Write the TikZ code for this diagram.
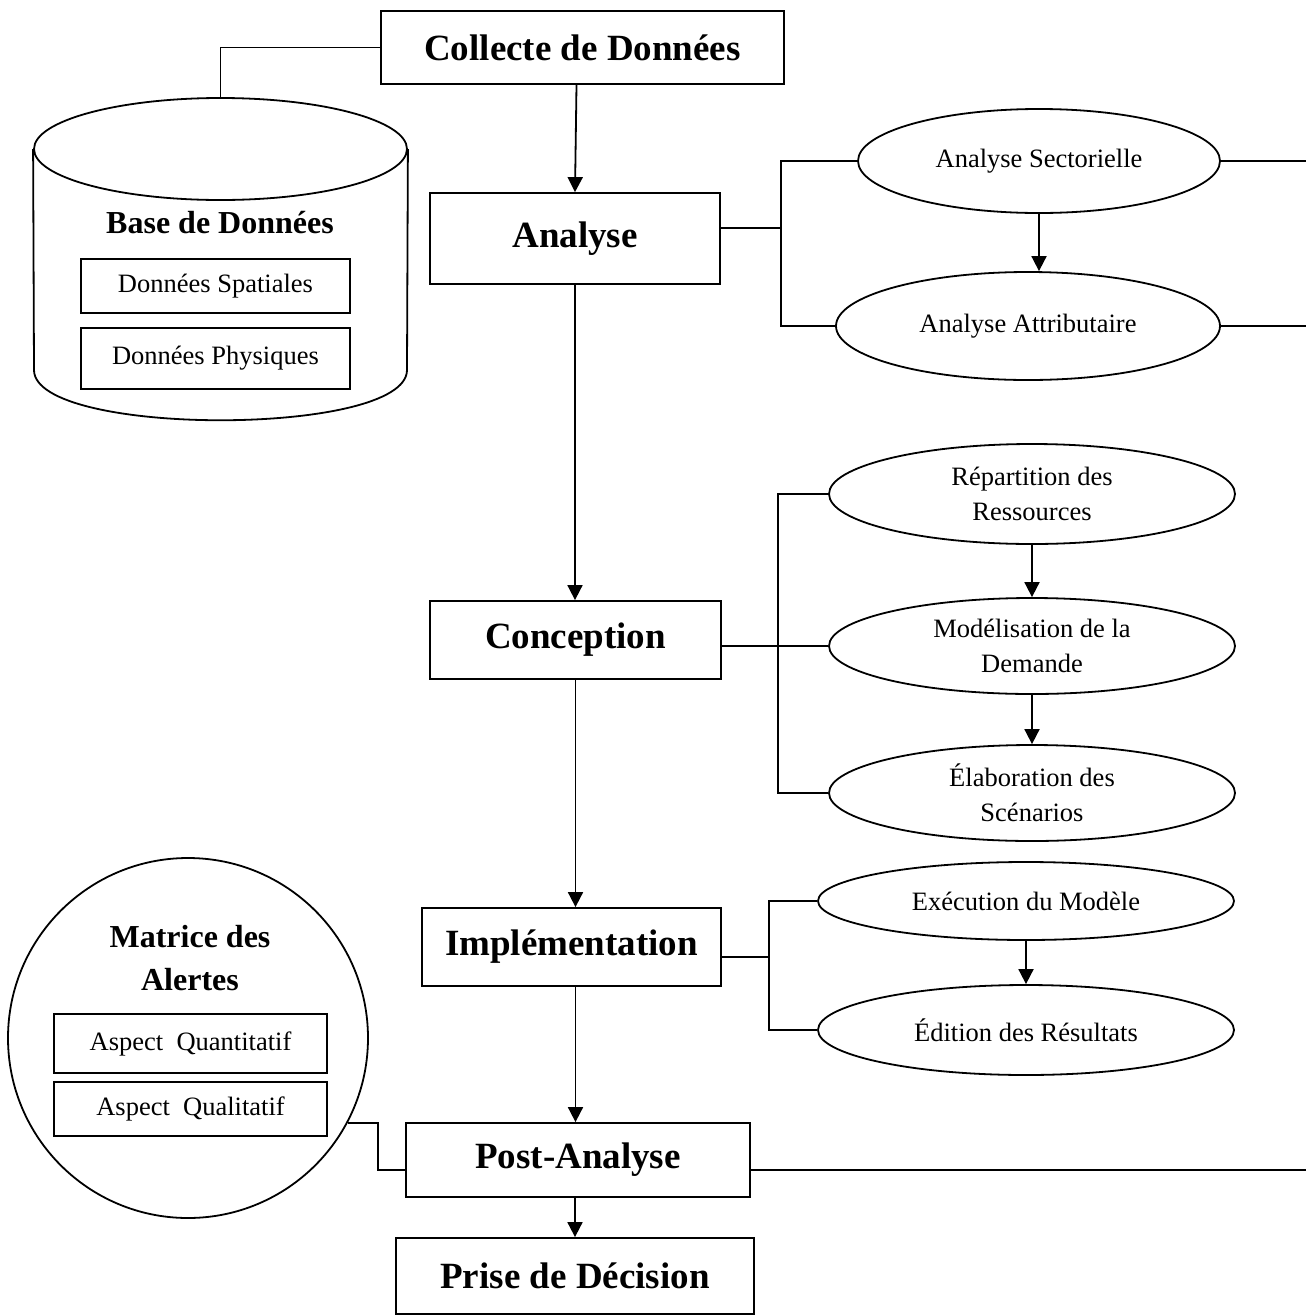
\documentclass[tikz,border=0pt]{standalone}
\usepackage{fontspec}
\setmainfont{Liberation Serif}
\usetikzlibrary{shapes.geometric}
\usetikzlibrary{positioning, arrows.meta}

\begin{document}
\begin{tikzpicture}[x=1pt, y=-1pt, line width=1.8pt, >={Triangle[width=15pt,length=15pt]}]
        % Define styles for shapes
        \tikzstyle{etape} = [draw, rectangle, inner sep=0pt, font=\fontsize{37}{44}\selectfont\bfseries]
        \tikzstyle{sousetape} = [draw, ellipse, inner sep=0pt, align=center, font=\fontsize{26.5}{35}\selectfont]
        \tikzstyle{cadre} = [draw, rectangle, inner sep=0pt, minimum width=269pt, font=\fontsize{26.5}{32}\selectfont]
        \tikzstyle{titre} = [align=center, font=\fontsize{32}{43}\selectfont\bfseries]

        \useasboundingbox (0,0) rectangle (1306,1315);

        % Main steps
        \node[etape, minimum width=403pt, minimum height=73pt] (collecte) at (582.5,47.5) {Collecte de Données};
        \node[etape, minimum width=290pt, minimum height=91pt] (analyse) at (575,238.5) {Analyse};
        \node[etape, minimum width=291pt, minimum height=78pt] (conception) at (575.5,640) {Conception};
        \node[etape, minimum width=299pt, minimum height=78pt] (implementation) at (571.5,947) {Implémentation};
        \node[etape, minimum width=344pt, minimum height=74pt] (postanalyse) at (578,1160) {Post-Analyse};
        \node[etape, minimum width=358pt, minimum height=76pt] (decision) at (575,1276) {Prise de Décision};

        % Database cylinder
        \node[draw, ellipse, minimum width=373pt, minimum height=102pt, inner sep=0pt] (basetop) at (220.5,149) {};
        \draw (basetop.west) -- (34,370) .. controls (34,437) and (407,437) .. (407,370) -- (basetop.east);
        \node[titre] (basetitre) at (220,223) {Base de Données};
        \node[cadre, minimum height=54pt] (spatiales) at (215.5,286) {Données Spatiales};
        \node[cadre, minimum height=61pt] (physiques) at (215.5,358.5) {Données Physiques};

        % Sub-steps
        \node[sousetape, minimum width=362pt, minimum height=104pt] (sectorielle) at (1039,161) {Analyse Sectorielle};
        \node[sousetape, minimum width=384pt, minimum height=108pt] (attributaire) at (1028,326) {Analyse Attributaire};
        \node[sousetape, minimum width=406pt, minimum height=100pt] (repartition) at (1032,494) {Répartition des\\Ressources};
        \node[sousetape, minimum width=406pt, minimum height=96pt] (modelisation) at (1032,646) {Modélisation de la\\Demande};
        \node[sousetape, minimum width=406pt, minimum height=96pt] (elaboration) at (1032,793) {Élaboration des\\Scénarios};
        \node[sousetape, minimum width=416pt, minimum height=78pt] (execution) at (1026,901) {Exécution du Modèle};
        \node[sousetape, minimum width=416pt, minimum height=90pt] (edition) at (1026,1030) {Édition des Résultats};

        % Alerts circle
        \node[draw, circle, minimum size=360pt, inner sep=0pt] (alertes) at (188,1038) {};
        \node[titre] (alertestitre) at (190,958) {Matrice des\\Alertes};
        \node[cadre, minimum width=273pt, minimum height=59pt] (quantitatif) at (190.5,1043.5) {Aspect~~Quantitatif};
        \node[cadre, minimum width=273pt, minimum height=54pt] (qualitatif) at (190.5,1109) {Aspect~~Qualitatif};

        % Coordinates for the connectors
        \coordinate (busanalyse) at (781,228);
        \coordinate (busconception) at (778,646);
        \coordinate (busimpl) at (769,957);
        \coordinate (coudepost) at (378,1170);
        \coordinate (bordsect) at (1306,161);
        \coordinate (bordattr) at (1306,326);
        \coordinate (bordpost) at (1306,1170);

        % Draw arrows
        \draw (collecte.west) -| (basetop.north);
        \draw[->] ([xshift=-6pt]collecte.south) -- (analyse.north);
        \draw[->] (analyse.south) -- (analyse.south |- conception.north);
        \draw[->] (conception.south) -- (conception.south |- implementation.north);
        \draw[->] (implementation.south -| conception.south) -- (conception.south |- postanalyse.north);
        \draw[->] (postanalyse.south -| decision.north) -- (decision.north);

        \draw (analyse.east |- busanalyse) -- (busanalyse);
        \draw (sectorielle.west) -| (busanalyse) |- (attributaire.west);
        \draw[->] (sectorielle.south) -- (sectorielle.south |- attributaire.north);
        \draw (sectorielle.east) -- (bordsect);
        \draw (attributaire.east) -- (bordattr);

        \draw (conception.east |- busconception) -- (modelisation.west);
        \draw (repartition.west) -| (busconception) |- (elaboration.west);
        \draw[->] (repartition.south) -- (modelisation.north);
        \draw[->] (modelisation.south) -- (elaboration.north);

        \draw (implementation.east |- busimpl) -- (busimpl);
        \draw (execution.west) -| (busimpl) |- (edition.west);
        \draw[->] (execution.south) -- (edition.north);

        \draw (postanalyse.west |- coudepost) -- (coudepost) |- (alertes.-28);
        \draw (postanalyse.east |- bordpost) -- (bordpost);
\end{tikzpicture}
\end{document}
